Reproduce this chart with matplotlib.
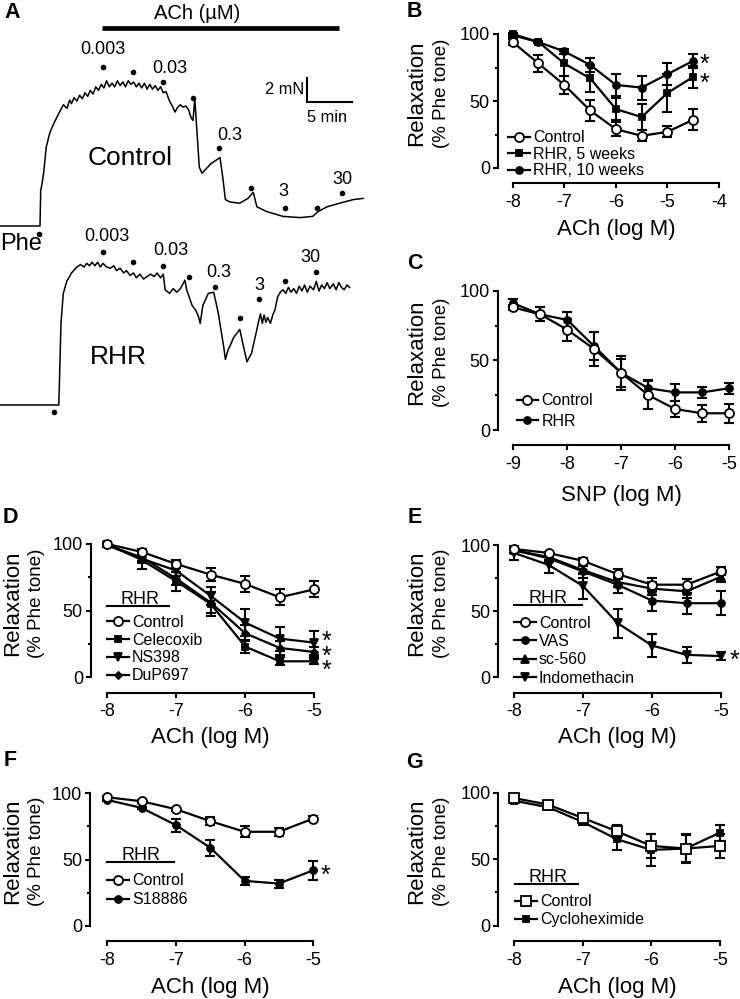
import matplotlib
matplotlib.use('Agg')
import matplotlib.pyplot as plt
from matplotlib.lines import Line2D
from matplotlib.transforms import Affine2D

# ------------------------------------------------------------------ data
# Panel A: isometric tension traces (time in min, tension in mN)
ctrl_trace_t = [-4.5, 0.0, 0.08, 0.2, 0.4, 0.7, 1.1, 1.7, 2.1, 2.6, 3.0, 3.3, 3.5, 3.8, 4.1, 4.4,
                4.7, 5.0, 5.3, 5.6, 5.9, 6.2, 6.5, 6.8, 7.1, 7.4, 7.7, 8.0, 8.3, 8.6, 8.9, 9.2,
                9.5, 9.8, 10.1, 10.4, 10.7, 11.0, 11.3, 11.6, 11.9, 12.2, 12.5, 12.8, 13.1, 13.4,
                13.7, 14.0, 14.4, 14.7, 15.0, 15.3, 15.6, 15.9, 16.2, 16.5, 16.8, 17.0, 17.2,
                17.4, 17.7, 18.0, 18.5, 19.0, 19.6, 20.0, 20.3, 20.6, 21.1, 22.2, 23.1, 23.7,
                24.1, 25.2, 27.0, 28.9, 30.3, 30.9, 31.9, 33.3, 34.8, 35.9]
ctrl_trace_F = [0, 0, 3.0, 3.4, 4.4, 6.6, 7.8, 8.8, 9.4, 10.1, 9.8, 10.5, 10.2, 10.7, 10.4, 10.9,
                10.6, 11.1, 10.8, 11.3, 11.0, 11.6, 11.3, 11.8, 11.5, 12.1, 11.6, 11.9, 11.6, 12.1,
                11.7, 12.0, 11.6, 12.1, 11.8, 12.0, 11.6, 11.9, 11.5, 11.9, 11.4, 11.8, 11.4, 11.7,
                11.3, 11.6, 11.1, 11.2, 10.4, 10.0, 9.5, 9.9, 10.1, 9.9, 10.0, 9.7, 9.0, 8.8,
                10.6, 8.3, 4.9, 4.4, 4.8, 5.2, 5.5, 5.7, 4.1, 2.2, 2.0, 1.9, 2.3, 2.8, 1.6, 1.2,
                0.8, 0.7, 0.8, 1.2, 1.6, 1.9, 2.2, 2.3]
rhr_trace_t = [-4.5, 2.09, 2.14, 2.33, 2.59, 2.97, 3.5, 4.1, 4.5, 4.9, 5.2, 5.5, 5.8, 6.1, 6.4,
               6.7, 7.0, 7.4, 7.8, 8.2, 8.5, 8.9, 9.3, 9.6, 10.0, 10.4, 10.7, 11.1, 11.5, 11.9,
               12.3, 12.7, 13.0, 13.4, 13.7, 13.9, 14.4, 14.8, 15.2, 15.6, 16.1, 16.3, 16.9,
               17.3, 17.6, 17.8, 18.1, 18.7, 19.3, 19.8, 20.4, 20.6, 20.9, 21.1, 21.5, 21.9,
               22.2, 22.6, 23.0, 23.5, 24.1, 24.3, 24.5, 24.7, 24.9, 25.1, 25.3, 25.6, 25.9,
               26.1, 26.4, 26.7, 27.0, 27.3, 27.6, 27.9, 28.2, 28.5, 28.8, 29.1, 29.4, 29.7,
               30.0, 30.4, 30.7, 31.0, 31.3, 31.6, 31.9, 32.2, 32.6, 32.9, 33.2, 33.5, 33.8,
               34.1, 34.4]
rhr_trace_F = [0, 0, 1.3, 6.8, 9.3, 10.3, 11.0, 11.5, 11.7, 11.5, 11.8, 11.6, 11.9, 11.6, 11.9,
               11.5, 11.8, 11.5, 11.4, 11.6, 11.2, 11.4, 11.0, 11.2, 10.8, 11.0, 10.6, 10.9, 10.5,
               10.7, 10.9, 10.7, 11.0, 10.6, 10.9, 9.6, 9.3, 9.7, 9.4, 9.7, 10.4, 9.6, 8.3, 7.9,
               7.4, 6.8, 8.3, 9.3, 9.4, 7.7, 4.9, 3.8, 4.6, 4.9, 5.6, 6.0, 6.3, 4.9, 3.6, 4.3,
               6.3, 7.0, 7.6, 6.8, 7.5, 6.9, 7.3, 6.8, 7.6, 7.9, 9.0, 9.4, 9.6, 9.3, 9.8, 9.4,
               9.7, 9.3, 9.9, 9.5, 10.0, 9.4, 9.9, 9.6, 10.3, 9.5, 10.0, 9.7, 10.2, 9.7, 10.1,
               9.6, 10.2, 9.8, 9.6, 10.0, 9.8]
# ACh additions (dots) on each trace
ctrl_add_t = [6.97, 10.3, 13.7, 17.03, 19.92, 23.41, 27.22, 30.74, 33.52]
ctrl_add_F = [13.28, 12.86, 12.03, 10.69, 6.47, 3.14, 1.47, 1.47, 2.72]
rhr_add_t = [6.97, 10.3, 13.7, 16.59, 19.44, 22.22, 24.37, 27.22, 30.63]
rhr_add_F = [12.78, 11.94, 11.58, 10.64, 9.86, 7.28, 8.86, 10.36, 11.11]
phe_ctrl = (-0.1, -0.7)
phe_rhr = (1.6, -0.6)
dose_labels = ['0.003', '0.03', '0.3', '3', '30']

# Panel B
x_B = [-8, -7.5, -7, -6.5, -6, -5.5, -5, -4.5]
ctrl_B = [94, 78, 62, 43, 29, 24, 27, 36]
ctrl_B_err = [2, 6, 7, 8, 5, 4, 4, 8]
rhr5_B = [100, 94, 78, 67, 44, 38, 56, 68]
rhr5_B_err = [1, 1, 9, 10, 8, 10, 14, 8]
rhr10_B = [99, 94, 87, 77, 62, 60, 70, 80]
rhr10_B_err = [1, 1, 2, 5, 8, 9, 8, 5]
xticks_B = [-8, -7, -6, -5, -4]
xticklabels_B = ['-8', '-7', '-6', '-5', '-4']

# Panel C
x_C = [-9, -8.5, -8, -7.5, -7, -6.5, -6, -5.5, -5]
ctrl_C = [88, 83, 72, 58, 41, 25, 15, 12, 12]
ctrl_C_err = [2, 5, 8, 12, 12, 10, 6, 6, 7]
rhr_C = [91, 83, 79, 60, 41, 30, 27, 27, 30]
rhr_C_err = [3, 5, 6, 10, 10, 6, 6, 4, 4]
xticks_C = [-9, -8, -7, -6, -5]
xticklabels_C = ['-9', '-8', '-7', '-6', '-5']

# Panels D-G share the ACh doses
x_ACh = [-8, -7.5, -7, -6.5, -6, -5.5, -5]
xticks_ACh = [-8, -7, -6, -5]
xticklabels_ACh = ['-8', '-7', '-6', '-5']

ctrl_D = [100, 94, 85, 77, 70, 60, 66]
ctrl_D_err = [1, 2, 3, 5, 6, 6, 6]
cele_D = [100, 88, 72, 55, 23, 12, 12]
cele_D_err = [1, 7, 7, 9, 5, 3, 2]
ns398_D = [99, 89, 80, 61, 41, 29, 26]
ns398_D_err = [1, 3, 4, 7, 10, 9, 9]
dup_D = [99, 90, 74, 56, 33, 22, 19]
dup_D_err = [1, 3, 5, 8, 6, 5, 4]

ctrl_E = [97, 94, 88, 78, 70, 70, 80]
ctrl_E_err = [1, 1, 2, 4, 5, 4, 3]
vas_E = [96, 90, 80, 70, 58, 56, 56]
vas_E_err = [2, 3, 5, 6, 8, 8, 9]
sc560_E = [96, 91, 81, 72, 67, 65, 76]
sc560_E_err = [2, 2, 3, 4, 5, 5, 4]
indo_E = [94, 85, 69, 41, 24, 17, 16]
indo_E_err = [5, 6, 10, 11, 9, 6, 3]

ctrl_F = [97, 94, 88, 79, 71, 71, 81]
ctrl_F_err = [1, 1, 1, 3, 4, 3, 2]
s18_F = [95, 89, 76, 59, 34, 32, 42]
s18_F_err = [1, 1, 5, 6, 3, 3, 7]

ctrl_G = [96, 91, 81, 71, 60, 58, 60]
ctrl_G_err = [1, 2, 3, 5, 9, 11, 9]
cyc_G = [94, 89, 78, 65, 57, 58, 70]
cyc_G_err = [1, 1, 2, 8, 12, 10, 6]

# significance stars: (x, y of the lowest star centre in data units, number of stars)
stars_B = (-4.5, 68.1, 2)
stars_D = (-5, 10.5, 3)
stars_E = (-5, 18.1, 1)
stars_F = (-5, 43.5, 1)

# ------------------------------------------------------------------ figure
plt.rcParams['font.family'] = ['Liberation Sans', 'DejaVu Sans']
W, H = 740, 999
fig = plt.figure(figsize=(W / 100, H / 100), dpi=100)
PX = Affine2D().scale(1.0 / W, -1.0 / H).translate(0, 1) + fig.transFigure


def ftext(x, y, s, **kw):
    return fig.text(x, y, s, transform=PX, **kw)


def fline(xs, ys, **kw):
    fig.add_artist(Line2D(xs, ys, transform=PX, **kw))


LW = 1.5


def make_panel(ys_px, xs_px, xa, xa_px, xb, xb_px, y0_px, y100_px, right_px, xticks, xticklabels):
    top_px = y100_px - 10
    sx = (xb - xa) / (xb_px - xa_px)
    sy = 100.0 / (y0_px - y100_px)
    ax = fig.add_axes([ys_px / W, 1 - xs_px / H, (right_px - ys_px) / W, (xs_px - top_px) / H])
    ax.set_xlim(xa + (ys_px - xa_px) * sx, xa + (right_px - xa_px) * sx)
    ax.set_ylim((y0_px - xs_px) * sy, (y0_px - top_px) * sy)
    ax.patch.set_visible(False)
    for s in ['top', 'right']:
        ax.spines[s].set_visible(False)
    for s in ['left', 'bottom']:
        ax.spines[s].set_linewidth(LW)
    ax.spines['left'].set_bounds(0, 100)
    ax.spines['bottom'].set_bounds(xticks[0], xticks[-1])
    ax.set_xticks(xticks)
    ax.set_xticklabels(xticklabels)
    ax.set_yticks([0, 50, 100])
    ax.set_yticklabels(['0', '50', '100'])
    ax.set_yticks([25, 75], minor=True)
    ax.tick_params(axis='both', which='major', direction='out', length=3.6, width=LW, labelsize=13)
    ax.tick_params(axis='y', which='major', pad=2)
    ax.tick_params(axis='x', which='major', pad=4)
    ax.tick_params(axis='y', which='minor', direction='out', length=2.2, width=LW)
    return ax


def series(ax, x, y, err, marker, ms, filled, label, z):
    ax.errorbar(x, y, yerr=err, fmt='none', ecolor='k', elinewidth=1.5, capsize=3.3,
                capthick=1.5, zorder=z, clip_on=False)
    ln, = ax.plot(x, y, color='k', lw=1.6, marker=marker, ms=ms,
                  mfc='k' if filled else 'white', mec='k', mew=1.3,
                  label=label, zorder=z + 0.5, clip_on=False)
    return ln


def add_legend(ax, handles, x_px, yc_px, spacing_px, fs=11.5):
    f_px = fs * 100 / 72.0
    row_h = 0.94 * f_px
    ls = max((spacing_px - row_h) / f_px, 0.0)
    top = yc_px - 0.37 * f_px
    ax.legend(handles=handles, loc='upper left', bbox_to_anchor=(x_px / W, 1 - top / H),
              bbox_transform=fig.transFigure, frameon=False, borderpad=0, borderaxespad=0,
              handlelength=1.35, handletextpad=0.2, labelspacing=ls, fontsize=fs,
              numpoints=1, handleheight=0.7)


def axis_labels(ax, xlabel, x_c, x_y, rel_x, phe_x, y_mid):
    ax.set_xlabel(xlabel, fontsize=16)
    ax.xaxis.set_label_coords(x_c / W, 1 - x_y / H, transform=fig.transFigure)
    ax.xaxis.label.set_va('center')
    ax.set_ylabel('Relaxation', fontsize=16)
    ax.yaxis.set_label_coords(rel_x / W, 1 - y_mid / H, transform=fig.transFigure)
    ax.yaxis.label.set_va('center')
    ftext(phe_x, y_mid, '(% Phe tone)', rotation=90, fontsize=13.5, ha='center', va='center')


def add_stars(ax, stars, dx_pt, gap_px):
    # one text per panel; stacked stars, baseline of the last line anchored
    sx_, sy_, n = stars
    fs = 18
    f_px = fs * 100 / 72.0
    ls = max((gap_px - 0.21 * f_px) / (0.73 * f_px), 0.1)
    ax.annotate('\n'.join(['*'] * n), xy=(sx_, sy_), xytext=(dx_pt, -10.4),
                textcoords='offset points', ha='left', va='baseline', fontsize=fs,
                linespacing=ls, annotation_clip=False)


def rhr_title(cx, base_y, x0, x1, line_y):
    ftext(cx, base_y, 'RHR', fontsize=13, ha='center', va='baseline')
    fline([x0, x1], [line_y, line_y], color='k', lw=1.5)


# ------------------------------------------------------------------ panel A
axA1 = fig.add_axes([0, 1 - 240 / H, 370 / W, 240 / H])
axA1.set_xlim(-4.444, 36.667)
axA1.set_ylim(-1.1667, 18.833)
axA1.axis('off')
axA1.plot(ctrl_trace_t, ctrl_trace_F, color='k', lw=1.1)
axA1.plot(ctrl_add_t, ctrl_add_F, 'o', color='k', ms=3)
axA1.plot([phe_ctrl[0]], [phe_ctrl[1]], 'o', color='k', ms=3)
# scale bar: 2 mN, 5 min
sb_t, sb_F = 29.63, 10.36
axA1.plot([sb_t, sb_t, sb_t + 5], [sb_F + 2, sb_F, sb_F], color='k', lw=1.5,
          solid_joinstyle='miter')

axA2 = fig.add_axes([0, 1 - 420 / H, 370 / W, 180 / H])
axA2.set_xlim(-4.444, 36.667)
axA2.set_ylim(-1.25, 13.75)
axA2.axis('off')
axA2.plot(rhr_trace_t, rhr_trace_F, color='k', lw=1.1)
axA2.plot(rhr_add_t, rhr_add_F, 'o', color='k', ms=3)
axA2.plot([phe_rhr[0]], [phe_rhr[1]], 'o', color='k', ms=3)

ftext(12, 12, 'A', fontsize=15.5, fontweight='bold', ha='center', va='center')
fline([101.7, 339.3], [28.3, 28.3], color='k', lw=3.4, solid_capstyle='butt')
ftext(196.7, 13.3, 'ACh (\u00b5M)', fontsize=14.5, ha='center', va='center')
ftext(304, 90, '2 mN', fontsize=11.8, ha='right', va='center')
ftext(327.5, 117, '5 min', fontsize=11.8, ha='center', va='center')
ftext(130.3, 158.3, 'Control', fontsize=19, ha='center', va='center')
ftext(118.3, 356.7, 'RHR', fontsize=19, ha='center', va='center')
ftext(21.3, 244.3, 'Phe', fontsize=17, ha='center', va='center')
ctrl_lab_pos = [(103, 50), (170, 68.3), (230, 135), (283.3, 191), (342.7, 179.3)]
rhr_lab_pos = [(106.7, 236.3), (171, 250.3), (218.7, 272.7), (259, 285.3), (310.7, 257.3)]
for s, (lx, ly) in zip(dose_labels, ctrl_lab_pos):
    ftext(lx, ly, s, fontsize=13, ha='center', va='center')
for s, (lx, ly) in zip(dose_labels, rhr_lab_pos):
    ftext(lx, ly, s, fontsize=13, ha='center', va='center')

# ------------------------------------------------------------------ panel B
axB = make_panel(497.7, 183, -8, 512.7, -4, 719, 168, 34, 730, xticks_B, xticklabels_B)
hB3 = series(axB, x_B, rhr10_B, rhr10_B_err, 'o', 5, True, 'RHR, 10 weeks', 3)
hB2 = series(axB, x_B, rhr5_B, rhr5_B_err, 's', 5, True, 'RHR, 5 weeks', 4)
hB1 = series(axB, x_B, ctrl_B, ctrl_B_err, 'o', 6.5, False, 'Control', 5)
add_legend(axB, [hB1, hB2, hB3], 508.3, 136, 16.7)
add_stars(axB, stars_B, 4.5, 19.4)
axis_labels(axB, 'ACh (log M)', 616, 230, 417, 442, 93)
ftext(414.5, 11.7, 'B', fontsize=15.5, fontweight='bold', ha='center', va='center')

# ------------------------------------------------------------------ panel C
axC = make_panel(497.7, 445, -9, 513.3, -5, 729.3, 430, 290.7, 738, xticks_C, xticklabels_C)
hC2 = series(axC, x_C, rhr_C, rhr_C_err, 'o', 5, True, 'RHR', 3)
hC1 = series(axC, x_C, ctrl_C, ctrl_C_err, 'o', 6.5, False, 'Control', 5)
add_legend(axC, [hC1, hC2], 516.7, 399.3, 20.7)
axis_labels(axC, 'SNP (log M)', 621.5, 495, 417, 442, 352)
ftext(414.5, 263.3, 'C', fontsize=15.5, fontweight='bold', ha='center', va='center')

# ------------------------------------------------------------------ panel D
axD = make_panel(90.7, 692.7, -8, 107.3, -5, 314.3, 677.3, 544, 340, xticks_ACh, xticklabels_ACh)
hD4 = series(axD, x_ACh, dup_D, dup_D_err, 'D', 3.5, True, 'DuP697', 2)
hD3 = series(axD, x_ACh, ns398_D, ns398_D_err, 'v', 5.5, True, 'NS398', 3)
hD2 = series(axD, x_ACh, cele_D, cele_D_err, 's', 5, True, 'Celecoxib', 4)
hD1 = series(axD, x_ACh, ctrl_D, ctrl_D_err, 'o', 6.5, False, 'Control', 5)
add_legend(axD, [hD1, hD2, hD3, hD4], 107.3, 620.7, 17.8)
rhr_title(140.5, 603.5, 107.3, 169.3, 606)
add_stars(axD, stars_D, 5.3, 14.2)
axis_labels(axD, 'ACh (log M)', 210.8, 737.5, 13, 36.7, 603)
ftext(10, 517.5, 'D', fontsize=15.5, fontweight='bold', ha='center', va='center')

# ------------------------------------------------------------------ panel E
axE = make_panel(498.3, 692.7, -8, 514, -5, 721, 677.3, 545, 740, xticks_ACh, xticklabels_ACh)
hE4 = series(axE, x_ACh, indo_E, indo_E_err, 'v', 5.5, True, 'Indomethacin', 2)
hE2 = series(axE, x_ACh, vas_E, vas_E_err, 'o', 5, True, 'VAS', 3)
hE3 = series(axE, x_ACh, sc560_E, sc560_E_err, '^', 5.5, True, 'sc-560', 4)
hE1 = series(axE, x_ACh, ctrl_E, ctrl_E_err, 'o', 6.5, False, 'Control', 5)
add_legend(axE, [hE1, hE2, hE3, hE4], 514, 621.7, 18.3)
rhr_title(548, 603, 514, 581.7, 605)
add_stars(axE, stars_E, 6.5, 14)
axis_labels(axE, 'ACh (log M)', 617.5, 737.5, 417, 442, 603)
ftext(414.5, 517.5, 'E', fontsize=15.5, fontweight='bold', ha='center', va='center')

# ------------------------------------------------------------------ panel F
axF = make_panel(90, 941, -8, 107.3, -5, 313.3, 926, 793.3, 340, xticks_ACh, xticklabels_ACh)
hF2 = series(axF, x_ACh, s18_F, s18_F_err, 'o', 5, True, 'S18886', 3)
hF1 = series(axF, x_ACh, ctrl_F, ctrl_F_err, 'o', 6.5, False, 'Control', 5)
add_legend(axF, [hF1, hF2], 107.3, 879, 19.3)
rhr_title(141, 859.5, 107.3, 174, 861.7)
add_stars(axF, stars_F, 5.3, 14)
axis_labels(axF, 'ACh (log M)', 210.3, 987, 13, 36.7, 851)
ftext(10, 761, 'F', fontsize=15.5, fontweight='bold', ha='center', va='center')

# ------------------------------------------------------------------ panel G
axG = make_panel(498.3, 941, -8, 514, -5, 720, 925.7, 792.7, 740, xticks_ACh, xticklabels_ACh)
hG2 = series(axG, x_ACh, cyc_G, cyc_G_err, 's', 5, True, 'Cycloheximide', 3)
hG1 = series(axG, x_ACh, ctrl_G, ctrl_G_err, 's', 6.5, False, 'Control', 5)
add_legend(axG, [hG1, hG2], 515, 900, 18.3)
rhr_title(547.5, 882, 515, 578.3, 884)
axis_labels(axG, 'ACh (log M)', 617, 987, 417, 442, 851)
ftext(414.5, 762, 'G', fontsize=15.5, fontweight='bold', ha='center', va='center')

fig.savefig('out.png', dpi=100)
